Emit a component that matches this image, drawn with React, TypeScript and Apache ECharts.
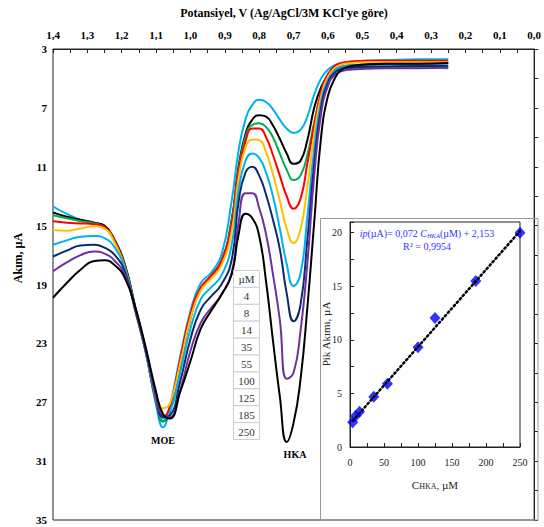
import React, { useEffect, useRef } from 'react';
import * as echarts from 'echarts';

const FONT = "'Times New Roman', 'Liberation Serif', serif";

// Shared potential grid (V vs Ag/AgCl)
const potentials = [1.40, 1.36, 1.32, 1.28, 1.25, 1.22, 1.19, 1.16, 1.13, 1.10, 1.08, 1.06, 1.03, 1.00, 0.97, 0.94, 0.91, 0.88, 0.86, 0.84, 0.82, 0.80, 0.78, 0.76, 0.74, 0.72, 0.70, 0.68, 0.66, 0.64, 0.62, 0.60, 0.58, 0.56, 0.53, 0.49, 0.43, 0.34, 0.25];

const concentrations = [4, 8, 14, 35, 55, 100, 125, 185, 250];
const curveColors = ['#00b0f0', '#000000', '#00b050', '#ff0000', '#ffc000', '#00b0f0', '#0c2a6e', '#7030a0', '#000000'];

const current4 = [13.7, 14.2, 14.6, 14.8, 15.1, 16.1, 17.8, 20.6, 23.6, 27.2, 28.7, 27.3, 23.9, 20.8, 18.9, 18.2, 17.0, 13.3, 9.9, 7.8, 6.8, 6.45, 6.6, 7.1, 7.8, 8.4, 8.7, 8.5, 7.6, 6.1, 5.0, 4.4, 4.1, 3.95, 3.85, 3.8, 3.75, 3.7, 3.7];
const current8 = [14.1, 14.4, 14.6, 14.8, 15.0, 16.0, 17.7, 20.6, 23.5, 26.9, 28.3, 27.6, 24.5, 21.3, 19.3, 18.5, 17.5, 14.6, 11.0, 8.8, 7.8, 7.5, 7.6, 8.2, 9.1, 10.1, 10.8, 10.6, 9.2, 7.0, 5.6, 4.8, 4.4, 4.2, 4.1, 4.05, 4.0, 4.0, 3.95];
const current14 = [14.3, 14.5, 14.7, 14.85, 15.1, 16.1, 17.8, 20.7, 23.6, 27.0, 28.3, 27.4, 24.3, 21.2, 19.3, 18.4, 17.4, 14.7, 11.2, 9.0, 8.15, 8.05, 8.3, 9.0, 10.1, 11.2, 11.9, 11.6, 10.2, 8.0, 6.1, 5.0, 4.5, 4.35, 4.3, 4.25, 4.25, 4.25, 4.3];
const current35 = [14.7, 14.8, 14.85, 14.9, 15.1, 16.1, 17.9, 20.8, 23.6, 26.9, 28.0, 27.3, 24.1, 21.0, 19.2, 18.4, 17.4, 14.9, 11.3, 9.3, 8.4, 8.4, 9.0, 10.2, 11.6, 13.0, 13.85, 13.2, 10.8, 8.2, 5.9, 4.7, 4.15, 3.95, 3.85, 3.8, 3.8, 3.8, 3.8];
const current55 = [15.3, 15.35, 15.2, 15.05, 15.2, 16.2, 18.0, 20.9, 23.5, 26.5, 27.4, 27.1, 24.4, 21.3, 19.4, 18.6, 17.7, 15.4, 11.8, 9.7, 9.15, 9.2, 10.0, 11.5, 13.3, 15.2, 16.2, 15.3, 12.4, 8.8, 6.2, 4.9, 4.3, 4.05, 3.95, 3.9, 3.9, 3.9, 3.9];
const current100 = [16.3, 16.0, 15.75, 15.7, 15.85, 16.5, 18.0, 20.8, 23.6, 26.8, 28.1, 27.7, 25.0, 22.0, 20.0, 19.2, 18.4, 16.3, 12.6, 10.6, 10.1, 10.4, 11.4, 13.0, 15.2, 17.6, 19.1, 18.3, 14.4, 9.8, 6.6, 5.1, 4.45, 4.2, 4.1, 4.1, 4.1, 4.1, 4.1];
const current125 = [17.1, 16.7, 16.35, 16.3, 16.5, 17.0, 18.2, 20.8, 23.5, 26.6, 28.0, 27.9, 25.6, 22.7, 20.7, 19.8, 19.0, 17.3, 13.4, 11.4, 11.0, 11.6, 12.9, 14.6, 16.6, 19.6, 21.5, 20.4, 16.0, 10.8, 7.0, 5.3, 4.6, 4.35, 4.25, 4.2, 4.2, 4.15, 4.15];
const current185 = [18.1, 17.5, 17.0, 16.75, 16.9, 17.4, 18.4, 20.7, 23.4, 26.5, 27.9, 28.0, 26.2, 23.5, 21.6, 20.6, 19.7, 18.2, 14.8, 12.8, 12.8, 13.8, 15.6, 18.3, 21.4, 25.4, 25.0, 22.2, 17.6, 11.6, 7.4, 5.5, 4.75, 4.5, 4.4, 4.35, 4.3, 4.3, 4.25];
const current250 = [19.9, 18.9, 18.0, 17.4, 17.35, 17.7, 18.6, 20.6, 23.3, 26.3, 27.8, 28.1, 26.3, 24.2, 22.0, 20.8, 19.7, 18.3, 15.6, 14.2, 14.5, 15.7, 18.8, 22.8, 26.6, 29.7, 28.4, 25.5, 20.6, 14.8, 9.0, 6.2, 5.0, 4.4, 4.15, 4.05, 4.0, 4.0, 3.95];
const currents = [current4, current8, current14, current35, current55, current100, current125, current185, current250];

// Calibration inset
const calibConc = [4, 8, 14, 35, 55, 100, 125, 185, 250];
const calibPeak = [2.3, 2.9, 3.3, 4.7, 5.9, 9.3, 12.05, 15.5, 20.0];
const slope = 0.072;
const intercept = 2.153;

const legendHeader = 'µM';

export default function App() {
  const ref = useRef<HTMLDivElement>(null);

  useEffect(() => {
    if (!ref.current) return;
    const chart = echarts.init(ref.current, null, { renderer: 'svg' });

    const axisFontBold = { fontFamily: FONT, fontWeight: 'bold' as const, fontSize: 11, color: '#000' };
    const axisFontInset = { fontFamily: FONT, fontSize: 10, color: '#222' };

    const curveSeries = currents.map((arr, k) => ({
      type: 'line',
      name: String(concentrations[k]),
      xAxisIndex: 0,
      yAxisIndex: 0,
      data: potentials.map((v, i) => [v, arr[i]]),
      showSymbol: false,
      smooth: 0.5,
      lineStyle: { color: curveColors[k], width: 2 },
      itemStyle: { color: curveColors[k] },
      z: 2 + k * 0.01,
    }));

    const trendStart = calibConc[0];
    const trendEnd = calibConc[calibConc.length - 1];

    const legendRowH = 16.9;
    const legendTop = 270;
    const legendLeft = 233;
    const legendW = 26;
    const legendItems = [legendHeader, ...concentrations.map(String)];
    const legendGraphics = legendItems.flatMap((t, i) => [
      {
        type: 'rect',
        shape: { x: legendLeft + 0.5, y: legendTop + i * legendRowH + 0.5, width: legendW, height: legendRowH },
        style: { fill: '#fff', stroke: '#c5cfe0', lineWidth: 1 },
        z: 100,
      },
      {
        type: 'text',
        x: legendLeft + legendW / 2 + 0.5,
        y: legendTop + i * legendRowH + legendRowH / 2 + 1,
        style: { text: t, fontFamily: FONT, fontSize: 11, fill: '#333', align: 'center', verticalAlign: 'middle' },
        z: 101,
      },
    ]);

    const option: any = {
      animation: false,
      backgroundColor: '#fff',
      grid: [
        { left: 53, top: 49, width: 485, height: 471, show: true, borderColor: '#222', borderWidth: 1, backgroundColor: 'transparent' },
        { left: 350, top: 222, width: 170, height: 225, show: true, borderColor: '#222', borderWidth: 1, backgroundColor: '#fff' },
      ],
      xAxis: [
        {
          gridIndex: 0,
          type: 'value',
          position: 'top',
          inverse: true,
          min: 0,
          max: 1.4,
          interval: 0.1,
          axisLine: { show: true, lineStyle: { color: '#222', width: 1 } },
          axisTick: { show: true, inside: true, length: 4, lineStyle: { color: '#222' } },
          minorTick: { show: true, splitNumber: 2, length: 4, lineStyle: { color: '#222' } },
          splitLine: { show: false },
          axisLabel: { ...axisFontBold, margin: 9, formatter: (v: number) => v.toFixed(1).replace('.', ',') },
        },
        {
          gridIndex: 1,
          type: 'value',
          min: 0,
          max: 250,
          interval: 50,
          axisLine: { show: true, lineStyle: { color: '#222', width: 1 } },
          axisTick: { show: true, inside: true, length: 4, lineStyle: { color: '#222' } },
          minorTick: { show: true, splitNumber: 2, length: 4, lineStyle: { color: '#222' } },
          splitLine: { show: false },
          axisLabel: { ...axisFontInset, margin: 10 },
        },
      ],
      yAxis: [
        {
          gridIndex: 0,
          type: 'value',
          inverse: true,
          min: 3,
          max: 35,
          interval: 4,
          axisLine: { show: true, lineStyle: { color: '#222', width: 1 } },
          axisTick: { show: true, inside: true, length: 4, lineStyle: { color: '#222' } },
          minorTick: { show: true, splitNumber: 2, length: 4, lineStyle: { color: '#222' } },
          splitLine: { show: false },
          axisLabel: { ...axisFontBold, margin: 6 },
        },
        {
          gridIndex: 1,
          type: 'value',
          min: 0,
          max: 21,
          interval: 5,
          axisLine: { show: true, lineStyle: { color: '#222', width: 1 } },
          axisTick: { show: true, inside: true, length: 4, lineStyle: { color: '#222' } },
          minorTick: { show: true, splitNumber: 2, length: 4, lineStyle: { color: '#222' } },
          splitLine: { show: false },
          axisLabel: { ...axisFontInset, margin: 8, showMaxLabel: false },
        },
      ],
      series: [
        ...curveSeries,
        {
          type: 'scatter',
          xAxisIndex: 1,
          yAxisIndex: 1,
          data: calibConc.map((c, i) => [c, calibPeak[i]]),
          symbol: 'diamond',
          symbolSize: [11, 12],
          itemStyle: { color: '#0000ff' },
          z: 10,
        },
        {
          type: 'line',
          xAxisIndex: 1,
          yAxisIndex: 1,
          data: [
            [trendStart, slope * trendStart + intercept],
            [trendEnd, slope * trendEnd + intercept],
          ],
          showSymbol: false,
          lineStyle: { color: '#000', width: 2.5, type: [1.5, 3], cap: 'round' },
          z: 11,
        },
      ],
      graphic: [
        {
          type: 'rect',
          shape: { x: 320.5, y: 218.5, width: 217.5, height: 301.5 },
          style: { fill: 'none', stroke: '#9a9a9a', lineWidth: 1 },
          z: 1,
        },
        {
          type: 'text',
          x: 284,
          y: 13,
          style: { text: "Potansiyel, V (Ag/AgCl/3M KCl'ye göre)", fontFamily: FONT, fontWeight: 'bold', fontSize: 12, fill: '#000', align: 'center', verticalAlign: 'middle' },
        },
        {
          type: 'text',
          x: 18,
          y: 258,
          rotation: Math.PI / 2,
          style: { text: 'Akım, µA', fontFamily: FONT, fontWeight: 'bold', fontSize: 12, fill: '#000', align: 'center', verticalAlign: 'middle' },
        },
        {
          type: 'text',
          x: 163,
          y: 440,
          style: { text: 'MOE', fontFamily: FONT, fontWeight: 'bold', fontSize: 10, fill: '#000', align: 'center', verticalAlign: 'middle' },
        },
        {
          type: 'text',
          x: 295,
          y: 454,
          style: { text: 'HKA', fontFamily: FONT, fontWeight: 'bold', fontSize: 10, fill: '#000', align: 'center', verticalAlign: 'middle' },
        },
        ...legendGraphics,
        {
          type: 'text',
          x: 427,
          y: 233,
          z: 20,
          style: {
            text: '{i|ip}(µA)= 0,072 {i|C}{s|HKA}(µM) + 2,153',
            fontFamily: FONT,
            fontSize: 10,
            fill: '#3333ff',
            align: 'center',
            verticalAlign: 'middle',
            rich: {
              i: { fontFamily: FONT, fontSize: 10, fontStyle: 'italic', fill: '#3333ff' },
              s: { fontFamily: FONT, fontSize: 6.5, fontStyle: 'italic', fill: '#3333ff', padding: [5, 0, 0, 0] },
            },
          },
        },
        {
          type: 'text',
          x: 427,
          y: 246,
          z: 20,
          style: { text: 'R² = 0,9954', fontFamily: FONT, fontSize: 10, fill: '#3333ff', align: 'center', verticalAlign: 'middle' },
        },
        {
          type: 'text',
          x: 435,
          y: 485,
          z: 20,
          style: {
            text: 'C{s|HKA}, µM',
            fontFamily: FONT,
            fontSize: 11,
            fill: '#222',
            align: 'center',
            verticalAlign: 'middle',
            rich: { s: { fontFamily: FONT, fontSize: 8, fill: '#222', padding: [3, 0, 0, 0] } },
          },
        },
        {
          type: 'text',
          x: 326,
          y: 334,
          rotation: Math.PI / 2,
          z: 20,
          style: { text: 'Pik Akımı, µA', fontFamily: FONT, fontSize: 11, fill: '#222', align: 'center', verticalAlign: 'middle' },
        },
      ],
    };

    chart.setOption(option);
    return () => chart.dispose();
  }, []);

  return (
    <div
      ref={ref}
      style={{ position: 'fixed', left: 0, top: 0, width: 544, height: 527, background: '#fff' }}
    />
  );
}
